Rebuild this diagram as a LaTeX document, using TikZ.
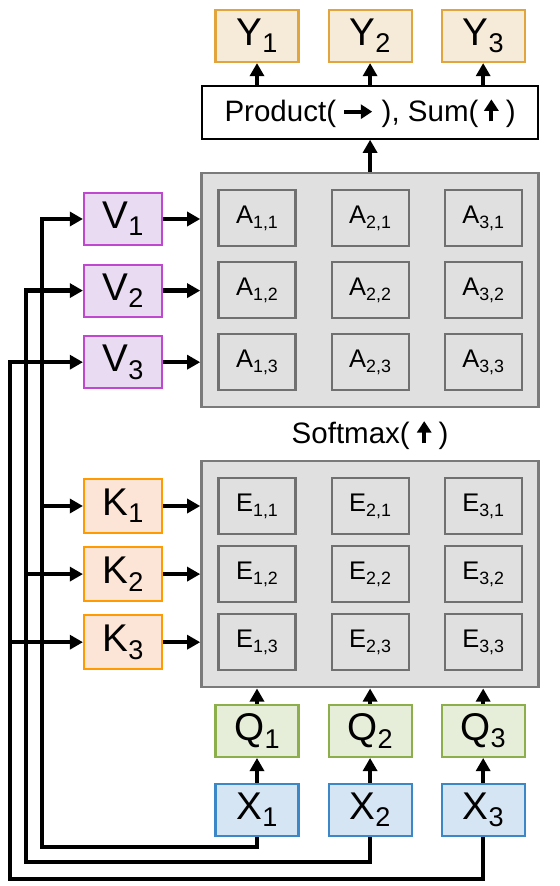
\documentclass[tikz,border=0pt]{standalone}
\usepackage{fontspec}
\setmainfont{Liberation Sans}
\usetikzlibrary{positioning,arrows.meta,calc,fit,backgrounds}
\definecolor{YFill}{HTML}{F6EBD9}
\definecolor{YLine}{HTML}{E2A53E}
\definecolor{VFill}{HTML}{E8DBF2}
\definecolor{VLine}{HTML}{C048D0}
\definecolor{KFill}{HTML}{FCE4D6}
\definecolor{KLine}{HTML}{FF9A00}
\definecolor{QFill}{HTML}{E6EED9}
\definecolor{QLine}{HTML}{8DAF4B}
\definecolor{XFill}{HTML}{D6E5F3}
\definecolor{XLine}{HTML}{3C87C8}
\definecolor{Gray}{HTML}{E0E0E0}
\definecolor{CellLine}{HTML}{707070}
\definecolor{OuterLine}{HTML}{7A7A7A}
\newcommand{\idx}[2]{#1\raisebox{-0.19em}{\scalebox{0.7}{#2}}}
\newcommand{\txtrarrow}{\tikz[baseline=-0.62ex]\draw[line width=2.4pt,-{Triangle[length=6.5pt,width=8pt]}] (0pt,0pt) -- (16pt,0pt);}
\newcommand{\txtuarrow}{\tikz[baseline=0pt]\draw[line width=2.4pt,-{Triangle[length=6.5pt,width=8pt]}] (0pt,0pt) -- (0pt,12.5pt);}

\begin{document}
\begin{tikzpicture}[
  x=0.02cm, y=-0.02cm,
  node distance=0.68cm,
  every node/.style={align=center},
  lblbox/.style={line width=1.2pt, minimum width=1.66cm, minimum height=1.04cm, inner sep=0pt, font=\fontsize{22}{26}\selectfont},
  ybox/.style={lblbox, draw=YLine, fill=YFill},
  vbox/.style={lblbox, draw=VLine, fill=VFill, minimum width=1.56cm},
  kbox/.style={lblbox, draw=KLine, fill=KFill, minimum width=1.56cm, minimum height=1.08cm},
  qbox/.style={lblbox, draw=QLine, fill=QFill},
  xbox/.style={lblbox, draw=XLine, fill=XFill},
  cell/.style={draw=CellLine, fill=Gray, line width=1.2pt, minimum width=1.54cm, minimum height=1.12cm, inner sep=0pt, font=\fontsize{14.5}{17}\selectfont},
  outer/.style={draw=OuterLine, fill=Gray, line width=1.4pt, inner sep=0.32cm},
  opbox/.style={draw=black, fill=white, line width=1pt, minimum width=6.72cm, minimum height=1.06cm, inner sep=0pt, font=\fontsize{16.8}{20}\selectfont},
  arr/.style={-{Triangle[length=7.5pt,width=8pt]}, line width=2.5pt, black}
]
\useasboundingbox (0,0) rectangle (560,886);

% A block
\node[cell] (a11) at (257,218) {\idx{A}{1,1}};
\node[cell, right=of a11] (a21) {\idx{A}{2,1}};
\node[cell, right=of a21] (a31) {\idx{A}{3,1}};
\node[cell, below=0.28cm of a11] (a12) {\idx{A}{1,2}};
\node[cell, below=0.28cm of a21] (a22) {\idx{A}{2,2}};
\node[cell, below=0.28cm of a31] (a32) {\idx{A}{3,2}};
\node[cell, below=0.28cm of a12] (a13) {\idx{A}{1,3}};
\node[cell, below=0.28cm of a22] (a23) {\idx{A}{2,3}};
\node[cell, below=0.28cm of a32] (a33) {\idx{A}{3,3}};

% E block
\node[cell] (e11) at (257,506) {\idx{E}{1,1}};
\node[cell, right=of e11] (e21) {\idx{E}{2,1}};
\node[cell, right=of e21] (e31) {\idx{E}{3,1}};
\node[cell, below=0.2cm of e11] (e12) {\idx{E}{1,2}};
\node[cell, below=0.2cm of e21] (e22) {\idx{E}{2,2}};
\node[cell, below=0.2cm of e31] (e32) {\idx{E}{3,2}};
\node[cell, below=0.2cm of e12] (e13) {\idx{E}{1,3}};
\node[cell, below=0.2cm of e22] (e23) {\idx{E}{2,3}};
\node[cell, below=0.2cm of e32] (e33) {\idx{E}{3,3}};

\begin{scope}[on background layer]
  \node[outer, fit=(a11)(a33)] (abox) {};
  \node[outer, fit=(e11)(e33)] (ebox) {};
\end{scope}

\node[font=\fontsize{16.8}{20}\selectfont] (soft) at ($(abox.south)!0.5!(ebox.north)$) {Softmax(\hspace{0.25em}\txtuarrow\hspace{0.25em})};

% Product and outputs
\node[opbox, above=0.64cm of abox] (prod) {Product(\hspace{0.2em}\txtrarrow\hspace{0.25em}), Sum(\hspace{0.2em}\txtuarrow\hspace{0.25em})};
\node[ybox] (y1) at (257,36) {\idx{Y}{1}};
\node[ybox, right=0.56cm of y1] (y2) {\idx{Y}{2}};
\node[ybox, right=0.56cm of y2] (y3) {\idx{Y}{3}};

% Values and keys
\node[vbox] (v1) at (123,219) {\idx{V}{1}};
\node[vbox, below=0.35cm of v1] (v2) {\idx{V}{2}};
\node[vbox, below=0.35cm of v2] (v3) {\idx{V}{3}};
\node[kbox] (k1) at (123,506) {\idx{K}{1}};
\node[kbox, below=0.24cm of k1] (k2) {\idx{K}{2}};
\node[kbox, below=0.24cm of k2] (k3) {\idx{K}{3}};

% Inputs and queries
\node[xbox] (x1) at (257,810) {\idx{X}{1}};
\node[xbox, right=0.56cm of x1] (x2) {\idx{X}{2}};
\node[xbox, right=0.56cm of x2] (x3) {\idx{X}{3}};
\node[qbox, above=0.5cm of x1] (q1) {\idx{Q}{1}};
\node[qbox, above=0.5cm of x2] (q2) {\idx{Q}{2}};
\node[qbox, above=0.5cm of x3] (q3) {\idx{Q}{3}};

\coordinate (l1) at (42,847);
\coordinate (l2) at (26,862);
\coordinate (l3) at (10,879);

% Arrows
\draw[arr] (x1.north) -- (q1.south);
\draw[arr] (x2.north) -- (q2.south);
\draw[arr] (x3.north) -- (q3.south);
\draw[arr] (q1.north) -- (q1.north |- ebox.south);
\draw[arr] (q2.north) -- (q2.north |- ebox.south);
\draw[arr] (q3.north) -- (q3.north |- ebox.south);
\draw[arr] (k1.east) -- (k1.east -| ebox.west);
\draw[arr] (k2.east) -- (k2.east -| ebox.west);
\draw[arr] (k3.east) -- (k3.east -| ebox.west);
\draw[arr] (v1.east) -- (v1.east -| abox.west);
\draw[arr] (v2.east) -- (v2.east -| abox.west);
\draw[arr] (v3.east) -- (v3.east -| abox.west);
\draw[arr] (abox.north) -- (prod.south);
\draw[arr] (prod.north -| y1) -- (y1.south);
\draw[arr] (prod.north -| y2) -- (y2.south);
\draw[arr] (prod.north -| y3) -- (y3.south);

\draw[arr] (x1.south) |- (l1) |- (v1.west);
\draw[arr] (l1 |- k1.west) -- (k1.west);
\draw[arr] (x2.south) |- (l2) |- (v2.west);
\draw[arr] (l2 |- k2.west) -- (k2.west);
\draw[arr] (x3.south) |- (l3) |- (v3.west);
\draw[arr] (l3 |- k3.west) -- (k3.west);
\end{tikzpicture}
\end{document}
